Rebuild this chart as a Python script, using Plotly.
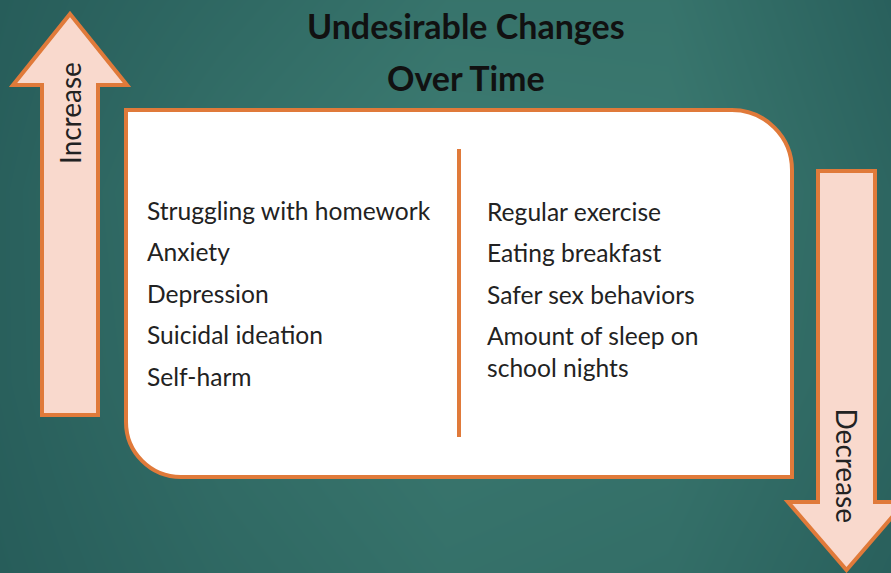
import plotly.graph_objects as go
import numpy as np

# ---- content ----
title_lines = ["Undesirable Changes", "Over Time"]
increase_label = "Increase"
decrease_label = "Decrease"
increase_items = ["Struggling with homework", "Anxiety", "Depression",
                  "Suicidal ideation", "Self-harm"]
decrease_items = ["Regular exercise", "Eating breakfast", "Safer sex behaviors",
                  "Amount of sleep on<br>school nights"]

W, H = 891, 573
ORANGE = "#E07A3A"
PINK = "#F9D9CD"
FONT = "Lato"

fig = go.Figure()

# background gradient (styling)
gx = np.linspace(0, W, 5)
gy = np.linspace(0, H, 4)
gz = [[0.15, 0.35, 0.55, 0.55, 0.2],
      [0.2, 0.5, 0.7, 0.65, 0.3],
      [0.2, 0.45, 0.6, 0.55, 0.3],
      [0.15, 0.35, 0.5, 0.45, 0.2]]
fig.add_trace(go.Heatmap(x=gx, y=gy, z=gz, zsmooth="best", showscale=False,
                         colorscale=[[0, "#275D5A"], [1, "#3D7C72"]],
                         hoverinfo="skip"))

shapes = []
# up arrow
shapes.append(dict(type="path",
                   path="M70,14 L127,85 L98,85 L98,415 L42,415 L42,85 L13,85 Z",
                   fillcolor=PINK, line=dict(color=ORANGE, width=4), layer="above"))
# down arrow
shapes.append(dict(type="path",
                   path="M818,171 L875,171 L875,502 L905,502 L846.5,570 L788,502 L818,502 Z",
                   fillcolor=PINK, line=dict(color=ORANGE, width=4), layer="above"))
# main box with two rounded corners
k = 0.5523
r1 = 60
r2 = 55
p = (f"M126,110 L{792-r1},110 C{792-r1+r1*k},110 792,{110+r1-r1*k} 792,{110+r1} "
     f"L792,477 L{126+r2},477 C{126+r2-r2*k},477 126,{477-r2+r2*k} 126,{477-r2} Z")
shapes.append(dict(type="path", path=p, fillcolor="white",
                   line=dict(color=ORANGE, width=4), layer="above"))
# divider
shapes.append(dict(type="line", x0=459, x1=459, y0=149, y1=437,
                   line=dict(color=ORANGE, width=4), layer="above"))

ann = []
ann.append(dict(x=466, y=25, text=f"<b>{title_lines[0]}</b>", showarrow=False,
                font=dict(family=FONT, size=34, color="#111"), xanchor="center", yanchor="middle"))
ann.append(dict(x=466, y=77, text=f"<b>{title_lines[1]}</b>", showarrow=False,
                font=dict(family=FONT, size=34, color="#111"), xanchor="center", yanchor="middle"))
ann.append(dict(x=70, y=113, text=increase_label, textangle=-90, showarrow=False,
                font=dict(family=FONT, size=28, color="#222"), xanchor="center", yanchor="middle"))
ann.append(dict(x=846.5, y=465, text=decrease_label, textangle=90, showarrow=False,
                font=dict(family=FONT, size=28, color="#222"), xanchor="center", yanchor="middle"))

left_y = [210, 251, 293, 334, 376]
for t, yy in zip(increase_items, left_y):
    ann.append(dict(x=145, y=yy, text=t, showarrow=False, xanchor="left", yanchor="middle",
                    font=dict(family=FONT, size=24.6, color="#222")))
right_y = [211, 252, 294, 351]
for t, yy in zip(decrease_items, right_y):
    ann.append(dict(x=485, y=yy, text=t, showarrow=False, xanchor="left", yanchor="middle",
                    align="left", font=dict(family=FONT, size=24.6, color="#222")))

fig.update_layout(
    width=W, height=H, margin=dict(l=0, r=0, t=0, b=0),
    paper_bgcolor="#316D67", plot_bgcolor="#316D67",
    xaxis=dict(range=[0, W], visible=False, fixedrange=True),
    yaxis=dict(range=[H, 0], visible=False, fixedrange=True),
    shapes=shapes, annotations=ann, showlegend=False,
)
fig.write_html("out.html", config={"displayModeBar": False},
               post_script="document.body.style.margin='0';document.body.style.overflow='hidden';")
